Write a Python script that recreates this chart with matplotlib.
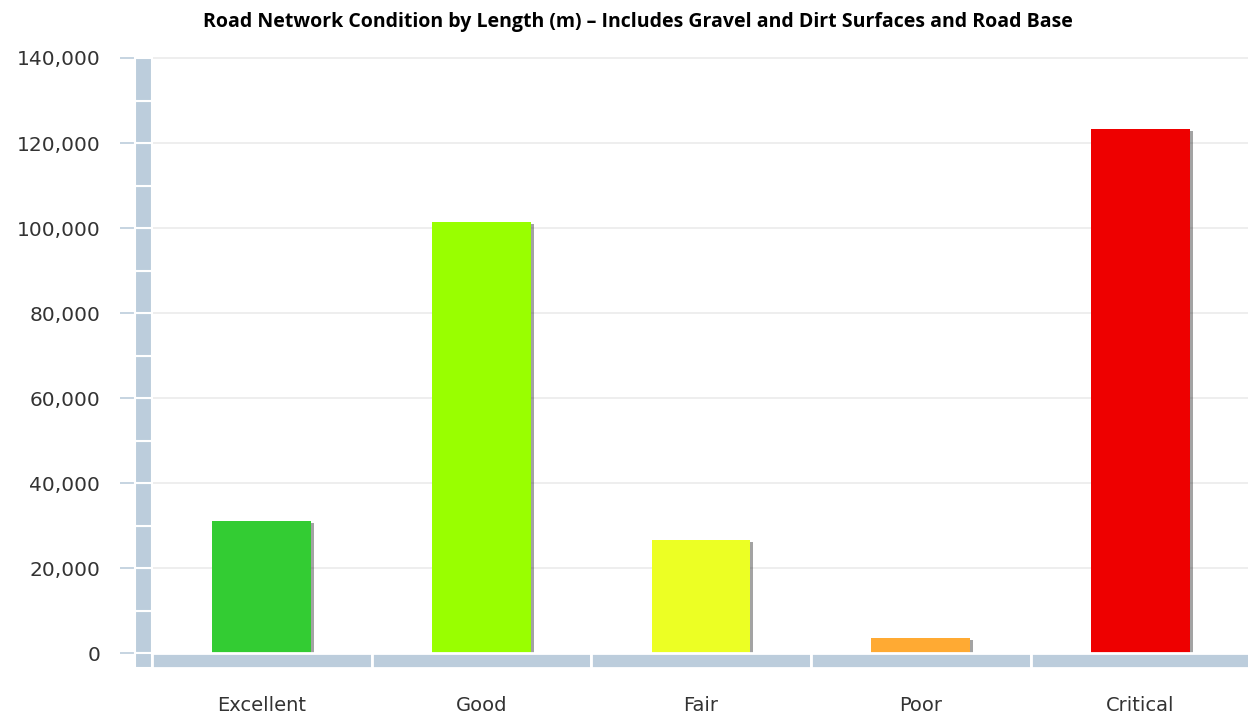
import matplotlib.pyplot as plt
from matplotlib.patches import Rectangle
import matplotlib.patheffects as pe

categories = ["Excellent", "Good", "Fair", "Poor", "Critical"]
lengths = [31000, 101500, 26600, 3500, 123300]
colors = ["#33cc33", "#99ff00", "#ecff24", "#ffaa33", "#ee0000"]
yticks = [0, 20000, 40000, 60000, 80000, 100000, 120000, 140000]

axis_col = "#bccddc"
base = -3500  # depth of the thick bottom axis band

fig = plt.figure(figsize=(12.48, 7.18), dpi=100)
ax = fig.add_axes([135 / 1248, (718 - 668) / 718, (1248 - 135) / 1248, (668 - 58) / 718])
ax.set_xlim(-0.577, 4.49)
ax.set_ylim(base, 140000)

for s in ax.spines.values():
    s.set_visible(False)

# grid lines
for v in yticks[1:]:
    ax.plot([-0.5, 4.6], [v, v], color="#ebebeb", lw=1.2, zorder=0, clip_on=False)

# bars with a soft shadow
x = list(range(len(categories)))
bars = ax.bar(x, lengths, width=0.45, color=colors, zorder=3)
for b in bars:
    b.set_path_effects([pe.SimplePatchShadow(offset=(2, -1.5), alpha=0.45, shadow_rgbFace="#333333"),
                        pe.Normal()])

# thick left axis band, split every 10,000
for lo in range(0, 140000, 10000):
    ax.add_patch(Rectangle((-0.577, lo), 0.077, 10000, facecolor=axis_col,
                           edgecolor="white", lw=1.5, zorder=4, clip_on=False))
ax.add_patch(Rectangle((-0.577, base), 0.077, -base, facecolor=axis_col,
                       edgecolor="white", lw=1.5, zorder=4, clip_on=False))

# thick bottom axis band, one piece per category
for i in x:
    ax.add_patch(Rectangle((i - 0.5, base), 1.0, -base, facecolor=axis_col,
                           edgecolor="white", lw=2, zorder=4, clip_on=False))

ax.set_yticks(yticks)
ax.set_yticklabels([f"{v:,}" for v in yticks])
ax.tick_params(axis="y", length=11, width=1.2, color=axis_col, pad=14,
               labelsize=14.5, labelcolor="#333333")
ax.set_xticks(x)
ax.set_xticklabels(categories)
ax.tick_params(axis="x", length=0, pad=20, labelsize=14, labelcolor="#333333")

fig.text(0.511, 0.969, "Road Network Condition by Length (m) \u2013 Includes Gravel and Dirt Surfaces and Road Base",
         ha="center", va="center", fontsize=14, fontweight="bold",
         family="Open Sans", color="#000000")

fig.savefig("out.png", dpi=100)
